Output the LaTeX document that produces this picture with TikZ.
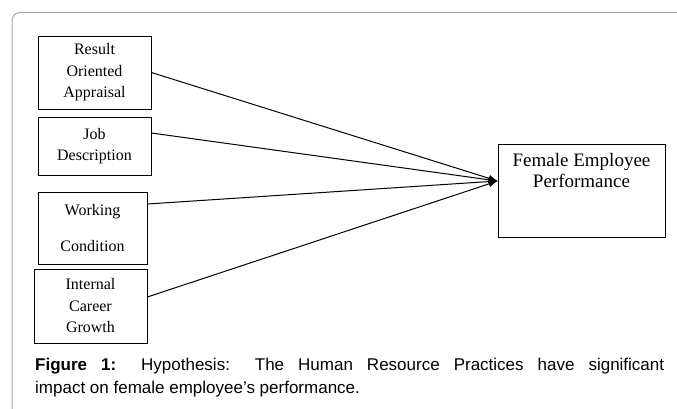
\documentclass[tikz,border=0pt]{standalone}
\usepackage{fontspec}
\setmainfont{Liberation Serif}
\newfontfamily\capfont{Liberation Sans}
\usepackage{tikz}
\usetikzlibrary{arrows.meta}

\definecolor{framegray}{HTML}{A8A8A8}
\tikzset{
  hrbox/.style={draw, line width=0.8pt, align=center, inner sep=0pt,
    font=\fontsize{16}{21.5}\selectfont},
  link/.style={line width=1pt, -{Latex[length=9pt,width=7pt]}}
}

\begin{document}
\begin{tikzpicture}[x=1pt,y=-1pt]
    \useasboundingbox (0,0) rectangle (677,409);
    % frame of the figure
    \draw[framegray, line width=1pt, rounded corners=8pt] (12,409) -- (12,12.5) -- (677,12.5);

    % practices
    \node[hrbox, minimum width=113pt, minimum height=73pt] (roa) at (94.5,72.5) {Result\\Oriented\\Appraisal};
    \node[hrbox, minimum width=113pt, minimum height=58pt] (jd) at (94.5,146) {Job\\Description};
    \node[hrbox, minimum width=109pt, minimum height=72pt] (wc) at (92.5,228) {Working\\[14pt]Condition};
    \node[hrbox, minimum width=113pt, minimum height=74pt] (icg) at (90.5,306) {Internal\\Career\\Growth};

    % performance
    \node[draw, line width=0.8pt, minimum width=167pt, minimum height=93pt] (perf) at (581.5,190.5) {};
    \node[align=center, anchor=north, inner sep=0pt, font=\fontsize{19}{20.5}\selectfont]
      (perftext) at ([yshift=-10pt]perf.north) {Female Employee\\Performance};
    \coordinate (hub) at ([yshift=9.5pt]perf.west);

    \draw[link] (roa.east) -- (hub);
    \draw[link] ([yshift=13pt]jd.east) -- (hub);
    \draw[link] ([yshift=24pt]wc.east) -- (hub);
    \draw[link] ([yshift=9pt]icg.east) -- (hub);

    % caption
    \node[anchor=north west, inner sep=0pt, text width=629pt, align=justify,
      font=\capfont\fontsize{17}{23}\selectfont] (cap) at (35,357.5)
      {\textbf{Figure 1:} Hypothesis: The Human Resource Practices have significant\linebreak impact on female employee’s performance.};
\end{tikzpicture}
\end{document}
